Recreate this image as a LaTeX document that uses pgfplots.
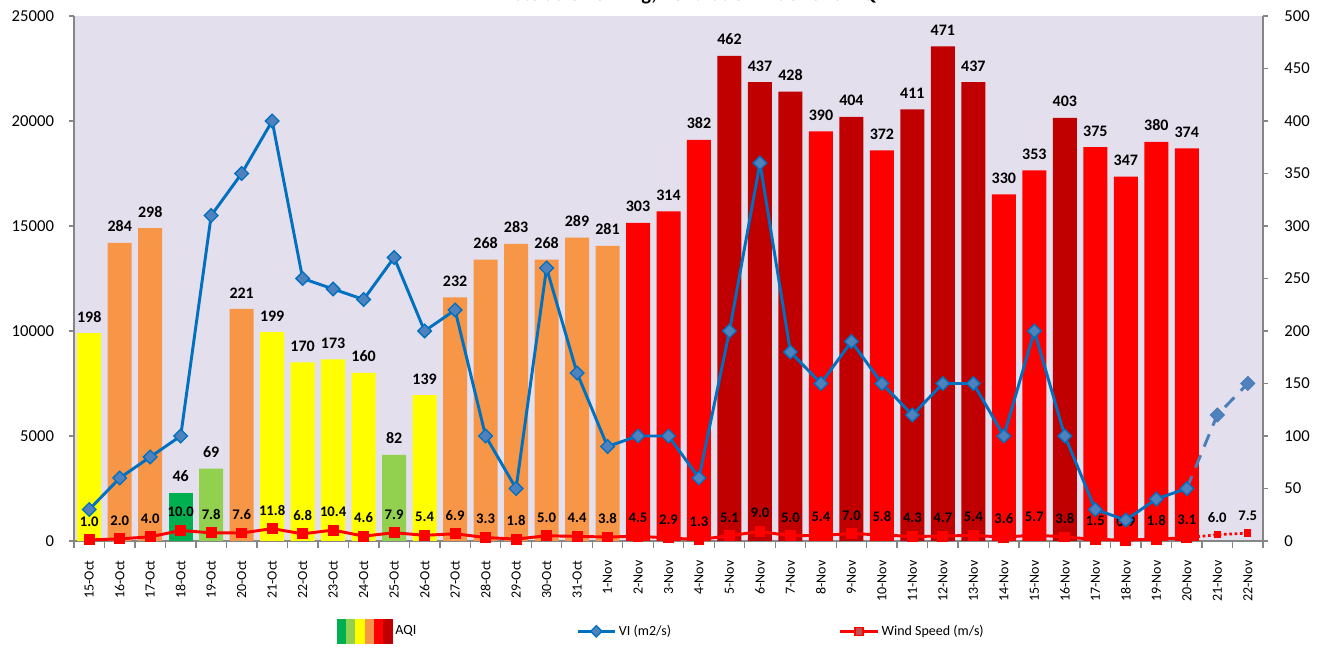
\documentclass[border=0pt]{standalone}
\usepackage{pgfplots}
\pgfplotsset{compat=1.18}
\usepackage{fontspec}
\setmainfont{Carlito}
\definecolor{bgc}{RGB}{228,223,236}
\definecolor{axgray}{RGB}{134,134,134}
\definecolor{aqig}{RGB}{0,176,80}
\definecolor{aqilg}{RGB}{146,208,80}
\definecolor{aqiy}{RGB}{255,255,0}
\definecolor{aqio}{RGB}{247,150,70}
\definecolor{aqir}{RGB}{255,0,0}
\definecolor{aqidr}{RGB}{192,0,0}
\definecolor{viblue}{RGB}{0,112,192}
\definecolor{vifill}{RGB}{79,129,189}
\definecolor{vidash}{RGB}{74,126,187}
\definecolor{windfill}{RGB}{192,80,77}
\pgfplotsset{
  base/.style={at={(55.5pt,83.25pt)}, anchor=south west, scale only axis,
    width=891.75pt, height=393.75pt, xmin=-0.5, xmax=38.5,
    tick align=outside, major tick length=4pt,
    axis line style={draw=axgray, line width=1pt, -},
    scaled y ticks=false,
    /pgf/number format/assume math mode=true,
    /pgf/number format/1000 sep={},
    yticklabel style={font=\fontsize{12.5}{13}\selectfont},
    y tick style={draw=axgray, line width=1pt}},
  aqibar/.style={ybar, bar width=18pt, bar shift=0pt, draw=none, fill=#1,
    nodes near coords,
    every node near coord/.append style={font=\bfseries\fontsize{12}{12}\selectfont, black, inner sep=1pt, yshift=7pt}},
  linelegend/.style={legend image code/.code={\draw[mark repeat=2,mark phase=2,##1] plot coordinates {(0pt,0pt)(14pt,0pt)(28pt,0pt)};}},
  aqilegend/.style={legend image code/.code={
    \fill[aqig] (0pt,-9pt) rectangle (6.9pt,9pt);
    \fill[aqilg] (6.9pt,-9pt) rectangle (13.8pt,9pt);
    \fill[aqiy] (13.8pt,-9pt) rectangle (20.7pt,9pt);
    \fill[aqio] (20.7pt,-9pt) rectangle (27.6pt,9pt);
    \fill[aqir] (27.6pt,-9pt) rectangle (34.5pt,9pt);
    \fill[aqidr] (34.5pt,-9pt) rectangle (41.4pt,9pt);}},
}
\begin{document}
\begin{tikzpicture}
\useasboundingbox (0pt,0pt) rectangle (996pt,489pt);
\node[font=\bfseries\fontsize{15.5}{15.5}\selectfont, anchor=base] at (523pt,488.4pt) {Stubble Burning, Ventilation Index and AQI};
% ---------- right axis: AQI bars and wind speed ----------
\begin{axis}[base, ymin=0, ymax=500, ytick={0,50,...,500},
  axis y line*=right, axis x line*=bottom,
  axis background/.style={fill=bgc},
  yticklabel style={xshift=8.5pt},
  xtick={0,...,38},
  xticklabels={15-Oct,16-Oct,17-Oct,18-Oct,19-Oct,20-Oct,21-Oct,22-Oct,23-Oct,24-Oct,25-Oct,26-Oct,27-Oct,28-Oct,29-Oct,30-Oct,31-Oct,1-Nov,2-Nov,3-Nov,4-Nov,5-Nov,6-Nov,7-Nov,8-Nov,9-Nov,10-Nov,11-Nov,12-Nov,13-Nov,14-Nov,15-Nov,16-Nov,17-Nov,18-Nov,19-Nov,20-Nov,21-Nov,22-Nov},
  xticklabel style={rotate=90, anchor=east, font=\fontsize{10.5}{11}\selectfont, xshift=-7pt},
  x tick style={draw=none},
  minor xtick={-0.5,0.5,...,38.5}, minor tick length=5pt,
  minor x tick style={draw=axgray, line width=1pt},
  clip=false]
\addplot[aqibar=aqig] coordinates {(3,46)};
\addplot[aqibar=aqilg] coordinates {(4,69)(10,82)};
\addplot[aqibar=aqiy] coordinates {(0,198)(6,199)(7,170)(8,173)(9,160)(11,139)};
\addplot[aqibar=aqio] coordinates {(1,284)(2,298)(5,221)(12,232)(13,268)(14,283)(15,268)(16,289)(17,281)};
\addplot[aqibar=aqir] coordinates {(18,303)(19,314)(20,382)(24,390)(26,372)(30,330)(31,353)(33,375)(34,347)(35,380)(36,374)};
\addplot[aqibar=aqidr] coordinates {(21,462)(22,437)(23,428)(25,404)(27,411)(28,471)(29,437)(32,403)};
% wind speed
\addplot[aqir, line width=2.2pt, mark=square*, mark size=3pt, mark options={fill=aqir, draw=aqir},
  nodes near coords={\pgfmathprintnumber[fixed,fixed zerofill,precision=1]{\pgfplotspointmeta}},
  every node near coord/.append style={font=\bfseries\fontsize{11}{11}\selectfont, black, inner sep=1pt, yshift=8pt}]
  coordinates {(0,1.0)(1,2.0)(2,4.0)(3,10.0)(4,7.8)(5,7.6)(6,11.8)(7,6.8)(8,10.4)(9,4.6)(10,7.9)(11,5.4)(12,6.9)(13,3.3)(14,1.8)(15,5.0)(16,4.4)(17,3.8)(18,4.5)(19,2.9)(20,1.3)(21,5.1)(22,9.0)(23,5.0)(24,5.4)(25,7.0)(26,5.8)(27,4.3)(28,4.7)(29,5.4)(30,3.6)(31,5.7)(32,3.8)(33,1.5)(34,0.9)(35,1.8)(36,3.1)};
\addplot[aqir, line width=2pt, dotted, mark=square*, mark size=1.8pt, mark options={solid, fill=aqir}, mark indices={2,3}]
  coordinates {(36,3.1)(37,6.0)(38,7.5)};
\addplot[draw=none, mark=none,
  nodes near coords={\pgfmathprintnumber[fixed,fixed zerofill,precision=1]{\pgfplotspointmeta}},
  every node near coord/.append style={font=\bfseries\fontsize{11}{11}\selectfont, black, inner sep=1pt, yshift=8pt}]
  coordinates {(37,6.0)(38,7.5)};
\end{axis}
% ---------- left axis: VI ----------
\begin{axis}[base, ymin=0, ymax=25000, ytick={0,5000,...,25000},
  axis y line*=left, axis x line=none, xtick=\empty,
  yticklabel style={xshift=-7.5pt},
  clip=false,
  legend style={at={(0.221,-0.172)}, anchor=west, draw=none, fill=none,
    legend columns=3, font=\fontsize{10.5}{11}\selectfont, inner sep=0pt,
    /tikz/every even column/.append style={column sep=118pt}},
  legend cell align=left]
\addlegendimage{aqilegend}
\addlegendentry{AQI}
\addlegendimage{viblue, line width=2pt, mark=square*, mark size=3pt, mark options={rotate=45, fill=vifill, draw=viblue, line width=1pt}, linelegend}
\addlegendentry{VI (m2/s)\rule{6pt}{0pt}}
\addlegendimage{aqir, line width=2pt, mark=square*, mark size=3pt, mark options={fill=windfill, draw=aqir, line width=1pt}, linelegend}
\addlegendentry{Wind Speed (m/s)}
\addplot[forget plot, viblue, line width=2.2pt, mark=square*, mark size=3.6pt,
  mark options={rotate=45, fill=vifill, draw=viblue, line width=1pt}]
  coordinates {(0,1500)(1,3000)(2,4000)(3,5000)(4,15500)(5,17500)(6,20000)(7,12500)(8,12000)(9,11500)(10,13500)(11,10000)(12,11000)(13,5000)(14,2500)(15,13000)(16,8000)(17,4500)(18,5000)(19,5000)(20,3000)(21,10000)(22,18000)(23,9000)(24,7500)(25,9500)(26,7500)(27,6000)(28,7500)(29,7500)(30,5000)(31,10000)(32,5000)(33,1500)(34,1000)(35,2000)(36,2500)};
\addplot[forget plot, vidash, line width=2.2pt, dash pattern=on 10pt off 7pt, mark=square*, mark size=3.6pt,
  mark options={solid, rotate=45, fill=vifill, draw=vidash, line width=1pt}, mark indices={2,3}]
  coordinates {(36,2500)(37,6000)(38,7500)};
\end{axis}
\end{tikzpicture}
\end{document}
